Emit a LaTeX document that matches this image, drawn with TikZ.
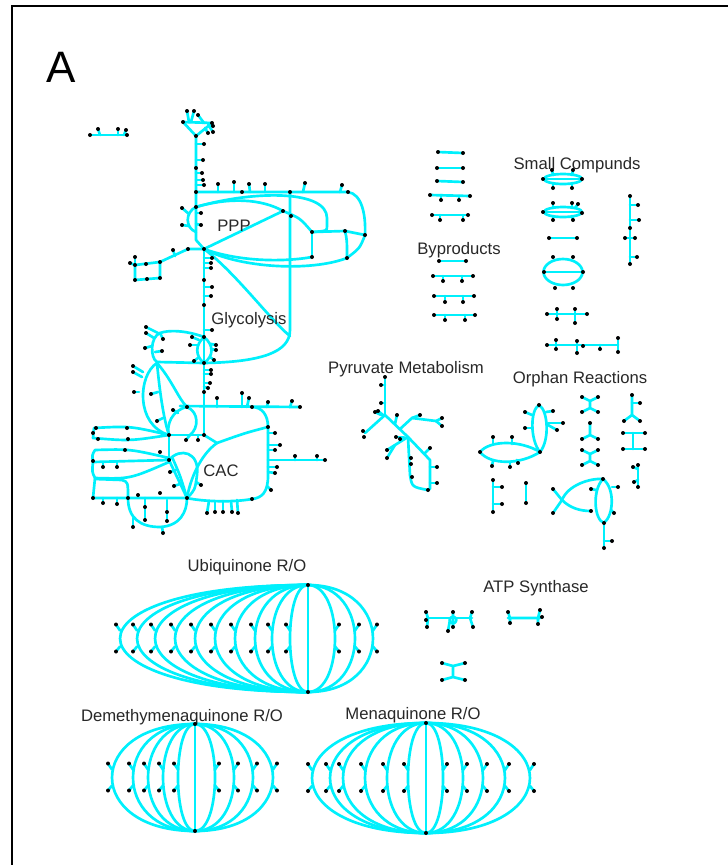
\documentclass[tikz,border=0pt]{standalone}
\usepackage{fontspec}
\setmainfont{Liberation Sans}
\definecolor{netc}{RGB}{0,240,252}
\definecolor{labc}{RGB}{40,40,40}
\pgfdeclarelayer{fg}
\pgfsetlayers{main,fg}
\tikzset{
  net/.style={draw=netc,line width=2pt,line cap=round,line join=round},
  lbl/.style={font=\fontsize{12.5}{15}\selectfont,text=labc,inner sep=0pt,anchor=base},
}
\newcommand{\pdots}[1]{\begin{pgfonlayer}{fg}\foreach \x/\y in {#1}{\fill[black] (\x,\y) circle (1.5pt);}\end{pgfonlayer}}
\newcommand{\spurs}[1]{\foreach \ax/\ay/\bx/\by in {#1}{\draw[net] (\ax,\ay) -- (\bx,\by);
  \begin{pgfonlayer}{fg}\fill[black] (\bx,\by) circle (1.5pt);\end{pgfonlayer}}}
\newcommand{\qarc}[5]{%
  \draw[net] (#1,#2) .. controls ({#1+1.333*(#4-#1)},#2) and ({#1+1.333*(#4-#1)},#3) .. (#1,#3);
  \pgfmathsetmacro{\qm}{(#2+#3)/2}
  \draw[net] (#4,{\qm-8}) -- ({#4+#5*4},{\qm-14});
  \draw[net] (#4,{\qm+8}) -- ({#4+#5*4},{\qm+13});
  \begin{pgfonlayer}{fg}\fill[black] ({#4+#5*4},{\qm-14}) circle (1.5pt);
  \fill[black] ({#4+#5*4},{\qm+13}) circle (1.5pt);\end{pgfonlayer}}
\newcommand{\quin}[5]{%
  \draw[net] (#1,#2) -- (#1,#3);
  \foreach \b in {#4}{\qarc{#1}{#2}{#3}{\b}{-1}}
  \foreach \b in {#5}{\qarc{#1}{#2}{#3}{\b}{1}}
  \pdots{#1/#2,#1/#3}}
\begin{document}
\begin{tikzpicture}[x=0.75pt,y=-0.75pt]
\useasboundingbox (0,0) rectangle (728,865);
\fill[white] (0,0) rectangle (728,865);
\draw[line width=1.6pt] (12,865) -- (12,6) -- (728,6);
\node[font=\fontsize{33}{36}\selectfont,inner sep=0pt,anchor=base] (lA) at (61,82) {A};

% ---------- small top-left
\draw[net] (90,135) -- (127,135);
\spurs{100/135/98/129, 118/135/118/129, 124/135/126/130}
\pdots{90/135,127/135}

% ---------- main network: top triangle and PPP
\coordinate (tA) at (196,136);
\coordinate (hA) at (196,207);
\coordinate (hB) at (204,249);
\coordinate (hT) at (348,192);
\coordinate (v290) at (290,192);
\coordinate (p1) at (283,211);
\draw[net] (183,122) -- (212,123) -- (tA) -- cycle;
\spurs{189/122/187/111, 191/122/194/111, 204/123/198/115, 208/124/213/126, 209/126/213/132, 205/128/208/133}
\pdots{183/122,212/123,196/136}
\draw[net] (tA) -- (196,192) -- (hA) -- (196,240) -- (hB);
\spurs{196/144/204/144, 196/160/203/160, 196/173/202/173, 196/180/203/180, 196/185/204/185}
\pdots{196/168,196/192,196/207,204/249}
\draw[net] (196,192) -- (hT) .. controls (362,194) and (366,215) .. (365,235);
\spurs{218/192/218/184, 234/192/234/182, 250/192/249/184, 265/192/265/184, 303/192/305/183, 340/192/342/185}
\pdots{242/192,290/192,348/192}
\draw[net] (v290) -- (290,330) .. controls (290,352) and (262,362) .. (204,363);
\draw[net] (hB) .. controls (235,272) and (272,322) .. (290,336);
\draw[net] (hA) .. controls (230,197) and (262,199) .. (p1);
\draw[net] (hA) .. controls (255,190) and (327,190) .. (327,218) -- (327,226) .. controls (327,231) .. (312,232);
\draw[net] (hB) -- (p1) .. controls (300,218) .. (312,232);
\pdots{283/211,291/216}
\draw[net] (312,232) -- (345,231) -- (365,235);
\draw[net] (312,232) -- (312,257);
\draw[net] (345,231) .. controls (347,240) .. (347,258);
\draw[net] (365,235) .. controls (360,248) .. (347,258);
\draw[net] (hB) .. controls (240,262) and (285,262) .. (312,257);
\draw[net] (hB) .. controls (240,268) and (310,272) .. (347,258);
\pdots{312/232,345/231,365/235,312/257,347/258}
\draw[net] (hA) .. controls (185,212) and (185,228) .. (196,232);
\spurs{189/214/182/208, 189/226/182/225, 196/213/201/213, 196/224/201/225}
% left box
\draw[net] (hB) -- (188,249) -- (160,262);
\draw[net] (160,262) -- (160,278) -- (135,280) -- (135,265) -- cycle;
\spurs{175/256/173/250, 135/265/135/257, 135/265/130/263}
\pdots{188/249,160/262,135/265,135/280,160/278,146/264,147/279}
% glycolysis vertical
\draw[net] (hB) -- (204,337) -- (204,435);
\spurs{204/258/212/258, 204/263/211/263, 204/268/211/268, 204/287/212/287, 204/296/211/296, 204/330/212/330}
\pdots{204/280,204/305,204/337}
\draw[net] (204,337) .. controls (195,345) and (195,356) .. (204,363);
\draw[net] (204,337) .. controls (214,345) and (214,356) .. (204,363);
\spurs{199/340/192/337, 197/345/190/345, 211/344/216/345, 211/349/216/350, 198/358/194/361, 210/357/214/360}
\spurs{204/370/211/370, 204/374/211/374, 204/383/210/383, 204/387/208/388}
\pdots{204/363,204/392}
\draw[net] (204,337) .. controls (185,330) and (168,330) .. (160,333) .. controls (150,337) and (150,358) .. (157,362) -- (204,363);
\spurs{158/333/146/327, 154/338/146/333, 152/346/145/348, 160/333/163/339, 155/352/162/351}
% left lower curves
\coordinate (c6) at (169,435);
\coordinate (c7) at (169,460);
\coordinate (c2) at (252,407);
\coordinate (c3) at (268,427);
\coordinate (c4) at (268,460);
\coordinate (c5) at (187,498);
\coordinate (c8) at (217,443);
\draw[net] (157,363) .. controls (138,375) and (135,425) .. (c6);
\draw[net] (157,363) .. controls (160,395) and (164,420) .. (c6);
\draw[net] (157,363) .. controls (172,380) and (178,398) .. (187,407);
\spurs{143/372/133/366, 142/377/133/372, 139/392/134/392, 158/392/151/394, 163/418/157/421}
% horizontal y=407
\draw[net] (180,406) -- (300,407);
\spurs{217/407/217/398, 242/407/242/393, 247/407/249/398, 267/407/268/402, 290/407/292/401}
\pdots{187/407,252/407,300/407}
\draw[net] (187,407) .. controls (172,410) and (166,425) .. (c6);
\draw[net] (187,407) .. controls (199,412) and (199,428) .. (190,435);
\draw[net] (c6) -- (204,435);
\spurs{178/413/173/410, 190/435/186/440, 198/435/198/440}
% CAC loop
\draw[net] (c2) .. controls (262,407) and (268,415) .. (c3) -- (c4) -- (268,476) .. controls (268,492) and (262,498) .. (252,499) .. controls (230,503) and (200,501) .. (c5);
\spurs{268/433/275/433, 268/445/280/445, 268/450/275/450, 268/467/277/467, 268/472/275/473, 267/486/271/490}
\pdots{268/427,252/499}
\draw[net] (c4) -- (325,460);
\spurs{295/460/295/456, 317/460/317/456}
\pdots{325/460}
\draw[net] (c3) .. controls (245,433) .. (c8) -- (204,435);
\draw[net] (c8) .. controls (200,455) and (190,480) .. (c5);
\draw[net] (c7) .. controls (180,447) and (200,452) .. (197,475) .. controls (195,490) .. (c5);
\draw[net] (c7) -- (c5);
\draw[net] (172,457) .. controls (180,475) .. (c5);
\draw[net] (c6) -- (c7);
\spurs{176/470/170/472, 180/484/174/486, 196/482/201/485}
\pdots{169/460,187/498,169/435,204/435}
% left fans
\draw[net] (c6) .. controls (130,426) .. (94,428) -- (93,438) .. controls (130,441) .. (c6);
\pdots{93/433,96/428,127/428,128/439,98/439}
\draw[net] (169,458) .. controls (130,449) .. (95,450) .. controls (92,455) .. (93,462) -- (c7);
\draw[net] (93,462) .. controls (92,472) .. (95,478) .. controls (130,479) .. (169,462);
\spurs{103/462/103/467, 117/462/117/467}
\pdots{93/461,125/450,160/452}
% bottom-left box and loop
\draw[net] (95,478) -- (93,498) -- (c5);
\draw[net] (95,479) -- (122,480) .. controls (128,482) .. (128,498);
\spurs{103/498/103/503, 117/498/117/504}
\pdots{93/498,128/498,138/495,160/493}
\draw[net] (128,498) .. controls (128,518) and (140,527) .. (160,527) .. controls (180,526) and (187,512) .. (c5);
\draw[net] (145,498) -- (145,520);
\draw[net] (167,500) -- (167,521);
\spurs{162/527/163/533, 133/518/133/527}
\pdots{145/507,145/520,167/512,167/521}
\spurs{209/501/207/513, 215/501/215/512, 223/501/223/512, 231/501/232/512, 237/500/238/513}

% ---------- Pyruvate metabolism
\coordinate (py) at (385,415);
\coordinate (py2) at (408,437);
\draw[net] (385,377) -- (py);
\spurs{385/385/381/385, 385/403/381/403, 381/415/375/412, 383/415/378/411}
\pdots{385/377}
\draw[net] (py) -- (365,433);
\pdots{363/431,364/437}
\draw[net] (py) -- (py2);
\spurs{395/424/397/415}
\draw[net] (400,429) -- (412,418) -- (436,421);
\spurs{412/418/420/415, 436/421/442/418, 436/421/442/426}
\draw[net] (py2) -- (395,445) -- (387,450);
\spurs{395/445/387/458, 404/437/396/437, 406/438/400/439}
\pdots{387/450}
\draw[net] (py2) -- (410,475) .. controls (412,487) .. (428,490);
\draw[net] (py2) -- (430,460) -- (430,489);
\pdots{411/458,411/464,412/477,428/490}
\spurs{424/454/430/448, 430/467/437/467, 430/483/437/483}

% ---------- Orphan reactions
\coordinate (o1) at (540,452);
\coordinate (o2) at (562,500);
\draw[net] (o1) .. controls (530,440) and (530,410) .. (539,405) .. controls (548,410) and (550,440) .. (o1);
\spurs{532/415/525/412, 532/428/525/428, 546/412/553/411, 548/423/563/423, 548/425/557/430}
\pdots{539/405}
\draw[net] (o1) .. controls (520,440) and (490,440) .. (480,452) .. controls (490,465) and (520,465) .. (o1);
\spurs{493/444/493/437, 512/444/512/437, 493/461/492/466, 510/462/510/467, 517/460/518/463}
\pdots{480/452,540/452}
\draw[net] (493,480) -- (493,512);
\spurs{493/487/502/487, 493/504/502/504}
\pdots{493/480,493/512}
\draw[net] (526,483) -- (526,503);
\pdots{526/483,526/503}
\draw[net] (553,489) -- (o2) -- (553,513);
\draw[net] (o2) .. controls (568,485) and (590,478) .. (603,479);
\draw[net] (o2) .. controls (570,508) and (580,511) .. (591,511);
\draw[net] (603,479) .. controls (592,490) and (594,520) .. (604,523) .. controls (614,515) and (615,488) .. (603,479);
\draw[net] (604,523) -- (604,548);
\spurs{604/541/612/541, 596/490/591/489, 612/487/618/487, 611/510/614/513}
\pdots{553/489,553/513,603/479,591/511,604/523,604/548}
\draw[net] (582,397) -- (590,401) -- (598,397) (590,401) -- (590,408) (582,412) -- (590,408) -- (598,412);
\pdots{582/397,598/397,582/412,598/412}
\draw[net] (590,423) -- (590,435) (582,439) -- (590,435) -- (598,439);
\pdots{590/423,582/439,598/439}
\draw[net] (582,450) -- (590,454) -- (598,450) (590,454) -- (590,461) (582,465) -- (590,461) -- (598,465);
\pdots{582/450,598/450,582/465,598/465}
\draw[net] (632,395) -- (632,415) (624,421) -- (632,415) -- (640,421);
\spurs{632/403/640/403}
\pdots{632/395,624/421,640/421}
\draw[net] (623,433) -- (645,433) (623,449) -- (645,449) (633,433) -- (633,449);
\pdots{623/433,645/433,623/449,645/449}
\draw[net] (638,465) -- (638,487);
\spurs{638/469/633/467, 638/480/634/482}
\pdots{638/465,638/487}

% ---------- Byproducts
\draw[net] (438,152) -- (463,153);
\draw[net] (437,168) -- (463,168);
\draw[net] (437,181) -- (463,182);
\draw[net] (430,195) -- (470,196);
\spurs{441/195/441/200, 459/196/459/200}
\draw[net] (432,215) -- (468,215);
\spurs{440/215/440/220, 463/215/463/220}
\pdots{438/152,463/153,437/168,463/168,437/181,463/182,430/195,470/196,432/215,468/215}
\draw[net] (439,261) -- (466,261);
\draw[net] (433,276) -- (473,276);
\spurs{443/276/443/281, 462/276/462/281}
\draw[net] (434,296) -- (474,296);
\spurs{445/296/445/302, 463/296/463/302}
\draw[net] (434,315) -- (475,315);
\spurs{445/315/445/320, 465/315/465/320}
\pdots{439/261,466/261,433/276,473/276,434/296,474/296,434/315,475/315}

% ---------- Small compounds
\draw[net] (563,179) ellipse [x radius=14.25pt, y radius=3.75pt];
\draw[net] (543,179) -- (582,179);
\spurs{553/175/552/170, 572/175/573/170, 553/183/553/188, 572/183/572/188}
\pdots{543/179,582/179}
\draw[net] (563,212) ellipse [x radius=14.25pt, y radius=3.75pt];
\draw[net] (543,212) -- (582,212);
\spurs{553/208/553/203, 572/208/572/203, 575/208/578/204, 553/216/553/220, 572/216/573/220}
\pdots{543/212,582/213}
\draw[net] (549,238) -- (577,238);
\pdots{549/238,577/238}
\draw[net] (563,272) ellipse [x radius=14.6pt, y radius=9.75pt];
\draw[net] (544,272) -- (583,272);
\pdots{553/257,573/257,555/288,573/288,544/272,583/272}
\draw[net] (547,314) -- (587,314) (557,309) -- (557,319) (575,309) -- (575,323);
\pdots{547/314,587/314,557/309,557/319,575/309,575/323}
\draw[net] (547,345) -- (618,345) (556,340) -- (556,349) (577,341) -- (577,353) (618,338) -- (618,352);
\spurs{600/345/600/349}
\pdots{547/345,556/340,556/349,577/341,577/353,583/346,618/338,618/352}
\draw[net] (630,196) -- (630,264);
\spurs{630/205/638/205, 630/220/639/220, 630/238/625/238, 630/238/635/238, 630/257/637/257}
\pdots{630/196,630/264,630/228}

% ---------- ATP synthase
\draw[net] (427,618) -- (472,618);
\draw[net] (426,612) -- (428,618) -- (427,627) (453,612) -- (453,627) (472,612) -- (470,618) -- (473,627);
\draw[net] (453,620) circle (2.5pt);
\spurs{450/620/448/631}
\pdots{426/612,426/620,427/627,453/612,453/627,472/612,473/627}
\draw[net] (508,618) -- (540,618) (508,612) -- (510,618) -- (510,623) (540,610) -- (538,618) -- (538,624);
\spurs{538/618/542/617}
\pdots{508/612,510/623,540/610,538/624}
\draw[net] (442,663) -- (453,666) -- (465,663) (453,666) -- (453,677) (442,680) -- (453,677) -- (465,680);
\pdots{442/663,465/663,442/680,465/680}

% ---------- quinone groups
\quin{308}{585}{692}{120,137,155,175,195,215,235,255,272,290}{335,355,373}
\quin{195}{724}{831}{112,133,148,163,178}{215,234,253,273}
\quin{426}{723}{833}{312,330,343,365,387,408}{443,463,483,505,530}

% ---------- labels
\node[lbl] (lPPP) at (234,231) {PPP};
\node[lbl] (lGly) at (249,324) {Glycolysis};
\node[lbl] (lCAC) at (221,476) {CAC};
\node[lbl] (lBy) at (459,254) {Byproducts};
\node[lbl] (lSC) at (577,169) {Small Compunds};
\node[lbl] (lPy) at (406,373) {Pyruvate Metabolism};
\node[lbl] (lOr) at (580,383) {Orphan Reactions};
\node[lbl] (lUb) at (247,571) {Ubiquinone R/O};
\node[lbl] (lATP) at (536,592) {ATP Synthase};
\node[lbl] (lDem) at (182,721) {Demethymenaquinone R/O};
\node[lbl] (lMen) at (413,719) {Menaquinone R/O};
\end{tikzpicture}
\end{document}
